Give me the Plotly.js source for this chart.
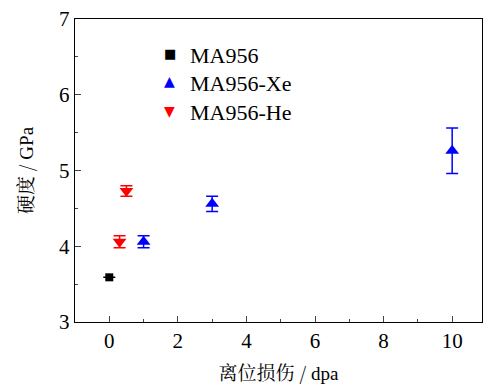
<!DOCTYPE html>
<html><head><meta charset="utf-8">
<script src="https://cdn.plot.ly/plotly-3.0.1.min.js"></script>
<style>body{margin:0}#c{width:483px;height:387px}</style>
</head><body><div id="c"></div>
<script>
const maX = [0];
const maY = [3.59];
const maErr = [0];
const xeX = [1, 3, 10];
const xeY = [4.06, 4.56, 5.26];
const xeErr = [0.08, 0.1, 0.3];
const heX = [0.3, 0.5];
const heY = [4.06, 4.73];
const heErr = [0.08, 0.07];
const xTicks = [0, 2, 4, 6, 8, 10];
const yTicks = [3, 4, 5, 6, 7];
const legendNames = ['MA956', 'MA956-Xe', 'MA956-He'];
const legendGlyphs = ['■', '▲', '▼'];
const legendColors = ['#000000', '#0000ff', '#ff0000'];

const serif = 'Liberation Serif';
function tr(name, x, y, e, sym, color, size) {
  return {type:'scatter', mode:'markers', name:name, x:x, y:y, showlegend:false,
    marker:{symbol:sym, color:color, size:size},
    error_y:{type:'data', array:e, visible:true, color:color, thickness:1.5, width:6}};
}
const data = [
  tr(legendNames[0], maX, maY, maErr, 'square', legendColors[0], 8),
  tr(legendNames[1], xeX, xeY, xeErr, 'triangle-up', legendColors[1], 12),
  tr(legendNames[2], heX, heY, heErr, 'triangle-down', legendColors[2], 12)
];
const rowY = [0.878, 0.786, 0.69];
const glyphSize = [13, 14, 14];
const ann = [];
legendNames.forEach((n, i) => {
  ann.push({xref:'paper', yref:'paper', x:0.278, y:rowY[i], xanchor:'left', yanchor:'middle',
    text:n, showarrow:false, font:{family:serif, size:22, color:'#000'}});
  ann.push({xref:'paper', yref:'paper', x:0.2334, y:rowY[i] + 0.008, xanchor:'center', yanchor:'middle',
    text:legendGlyphs[i], showarrow:false, font:{family:'DejaVu Sans', size:glyphSize[i], color:legendColors[i]}});
});
const layout = {
  width:483, height:387, margin:{l:75, r:1, t:19, b:65},
  paper_bgcolor:'#fff', plot_bgcolor:'#fff', showlegend:false,
  font:{family:serif, size:21, color:'#000'},
  xaxis:{range:[-1, 10.87], tickvals:xTicks, ticktext:xTicks.map(String), ticks:'inside', ticklen:6,
    minor:{dtick:1, ticks:'inside', ticklen:3}, showline:true, linecolor:'#000', linewidth:1.2, mirror:true,
    showgrid:false, zeroline:false, tickfont:{family:serif, size:21},
    title:{text:'离位损伤 / <span style="font-family:Liberation Serif">dpa</span>', font:{family:'Noto Serif CJK SC, Noto Sans CJK SC', size:19}, standoff:14}},
  yaxis:{range:[3, 7], tickvals:yTicks, ticktext:yTicks.map(String), ticks:'inside', ticklen:6,
    minor:{dtick:0.5, ticks:'inside', ticklen:3}, showline:true, linecolor:'#000', linewidth:1.2, mirror:true,
    showgrid:false, zeroline:false, tickfont:{family:serif, size:21},
    title:{text:'硬度 / <span style="font-family:Liberation Serif">GPa</span>', font:{family:'Noto Serif CJK SC, Noto Sans CJK SC', size:19}, standoff:20}},
  annotations: ann
};
Plotly.newPlot('c', data, layout, {staticPlot:true});
</script></body></html>
